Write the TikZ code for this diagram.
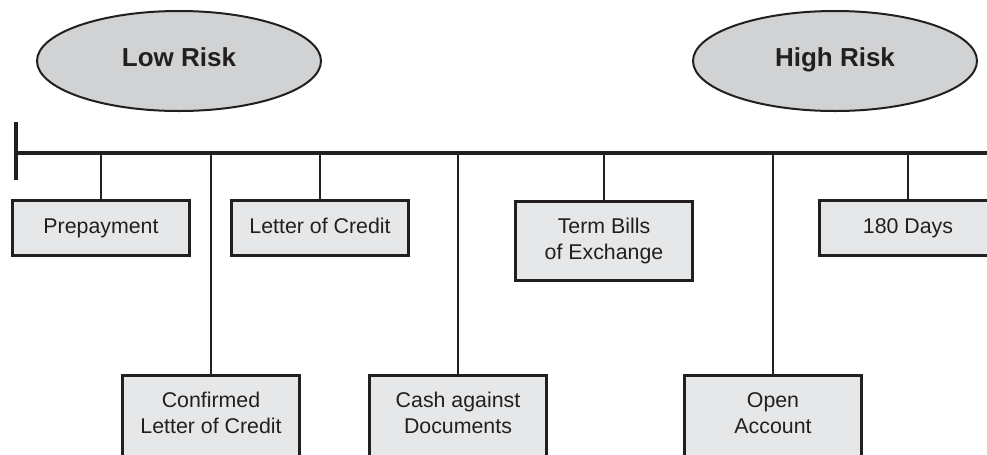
\documentclass[tikz,border=0pt]{standalone}
\usepackage{fontspec}
\setmainfont{Liberation Sans}
\usepackage{tikz}
\usetikzlibrary{
    shapes.geometric,
    positioning
}
\definecolor{ink}{RGB}{35,31,32}
\definecolor{riskfill}{RGB}{209,210,212}
\definecolor{boxfill}{RGB}{230,231,232}
\tikzset{
    risk/.style={
        ellipse,
        draw=ink,
        line width=1.5pt,
        fill=riskfill,
        text=ink,
        minimum width=213pt,
        minimum height=75pt,
        text height=14pt,
        text depth=6pt,
        font=\fontsize{19.5}{23}\selectfont\bfseries
    },
    method/.style={
        rectangle,
        draw=ink,
        line width=2.2pt,
        fill=boxfill,
        text=ink,
        minimum width=133pt,
        minimum height=41.5pt,
        text height=11.6pt,
        text depth=3.4pt,
        align=center,
        font=\fontsize{16}{19.5}\selectfont
    },
    method2/.style={
        method,
        text height=,
        text depth=,
        minimum height=59.5pt
    },
    lower/.style={
        method2,
        minimum height=63.4pt,
        text depth=7.4pt
    },
    axis/.style={
        draw=ink,
        line width=2.3pt
    },
    stem/.style={
        draw=ink,
        line width=1.1pt
    }
}

\begin{document}
\begin{tikzpicture}[x=0.75pt, y=-0.75pt]

\clip (0,0) rectangle (987,454);

% Risk ends
\node[risk] (low) at (179,61) {Low Risk};
\node[risk] (high) at (835,61) {High Risk};

% Time line
\coordinate (tl) at (16,153);
\coordinate (tr) at (995,153);
\coordinate (ttop) at (16,122);
\coordinate (tbot) at (16,180);
\draw[axis] (tl) -- (tr);
\draw[axis] (ttop) -- (tbot);

% Upper row
\node[method] (prepay) at (101,228) {Prepayment};
\node[method] (loc) at (320,228) {Letter of Credit};
\node[method2] (bills) at (604,241) {Term Bills\\of Exchange};
\node[method] (days) at (908,228) {180 Days};

% Lower row (runs off the bottom edge)
\node[lower] (confloc) at (211,417.75) {Confirmed\\Letter of Credit};
\node[lower] (cad) at (458,417.75) {Cash against\\Documents};
\node[lower] (open) at (773,417.75) {Open\\Account};

% Stems
\foreach \n in {prepay, loc, bills, days, confloc, cad, open}
    \draw[stem] (\n.north) -- (\n.north |- tl);

\end{tikzpicture}
\end{document}
